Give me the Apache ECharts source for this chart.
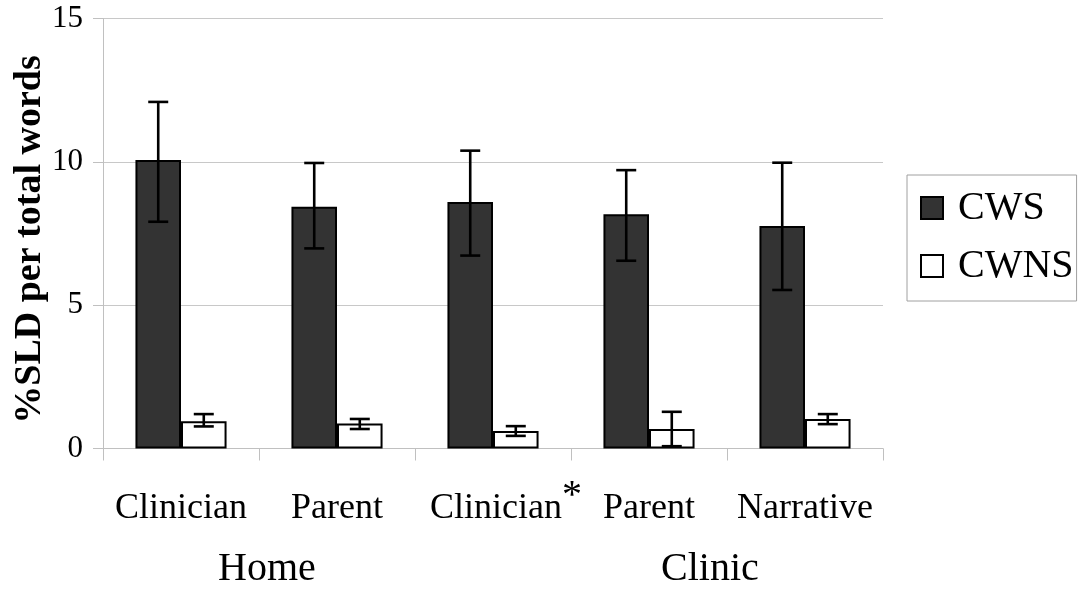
<!DOCTYPE html>
<html>
<head>
<meta charset="utf-8">
<script src="https://cdn.jsdelivr.net/npm/echarts@6/dist/echarts.min.js"></script>
<style>html,body{margin:0;padding:0;background:#fff;}#c{width:1082px;height:590px;}</style>
</head>
<body>
<div id="c"></div>
<script>
var categories = ['Clinician', 'Parent', 'Clinician*', 'Parent', 'Narrative'];
var groupLabels = ['Home', 'Clinic'];
var cwsValues = [10.06, 8.43, 8.60, 8.17, 7.76];
var cwsLow = [7.91, 6.98, 6.73, 6.55, 5.53];
var cwsHigh = [12.09, 9.96, 10.39, 9.71, 9.97];
var cwnsValues = [0.95, 0.87, 0.61, 0.68, 1.03];
var cwnsLow = [0.77, 0.68, 0.44, 0.08, 0.85];
var cwnsHigh = [1.20, 1.03, 0.78, 1.28, 1.20];
var yTicks = [0, 5, 10, 15];

var FONT = 'Liberation Serif';
var BAR_FRAC = 0.292;

function errData(lo, hi) {
  return lo.map(function (v, i) { return [i, v, hi[i]]; });
}
function makeErr(sign) {
  return function (params, api) {
    var idx = api.value(0);
    var band = api.size([1, 0])[0];
    var off = sign * band * BAR_FRAC / 2;
    var pLo = api.coord([idx, api.value(1)]);
    var pHi = api.coord([idx, api.value(2)]);
    var x = pLo[0] + off;
    var hw = 10;
    var st = { stroke: '#000', lineWidth: 2.6 };
    return {
      type: 'group',
      children: [
        { type: 'line', shape: { x1: x, y1: pLo[1], x2: x, y2: pHi[1] }, style: st },
        { type: 'line', shape: { x1: x - hw, y1: pLo[1], x2: x + hw, y2: pLo[1] }, style: st },
        { type: 'line', shape: { x1: x - hw, y1: pHi[1], x2: x + hw, y2: pHi[1] }, style: st }
      ]
    };
  };
}

var chart = echarts.init(document.getElementById('c'), null, { renderer: 'canvas' });
chart.setOption({
  animation: false,
  backgroundColor: '#fff',
  textStyle: { fontFamily: FONT },
  grid: { left: 103, right: 199, top: 18.5, bottom: 141.5, containLabel: false, outerBoundsMode: 'none' },
  legend: {
    orient: 'vertical',
    left: 907, top: 175,
    padding: [13, 3, 15, 13],
    itemGap: 18,
    itemWidth: 22, itemHeight: 22,
    borderColor: '#a0a0a0', borderWidth: 1,
    icon: 'rect',
    textStyle: { fontFamily: FONT, fontSize: 40, lineHeight: 40, color: '#000', padding: [0, 0, 0, 10] },
    data: ['CWS', 'CWNS']
  },
  xAxis: {
    type: 'category',
    data: categories,
    axisLine: { lineStyle: { color: '#c0c0c0', width: 1 } },
    axisTick: { show: true, length: 12, lineStyle: { color: '#c0c0c0' } },
    axisLabel: {
      margin: 42,
      interval: 0,
      formatter: function (v) {
        if (v.charAt(v.length - 1) === '*') return '{b|' + v.slice(0, -1) + '}{s|*}';
        return '{a|' + v + '}';
      },
      rich: {
        a: { fontFamily: FONT, fontSize: 36, lineHeight: 36, color: '#000' },
        b: { fontFamily: FONT, fontSize: 36, lineHeight: 36, color: '#000', padding: [0, 0, 0, 26] },
        s: { fontFamily: FONT, fontSize: 40, lineHeight: 12, padding: [0, 0, 24, 0], color: '#000' }
      }
    }
  },
  yAxis: {
    type: 'value',
    min: 0, max: 15, interval: 5,
    name: '%SLD per total words',
    nameLocation: 'middle',
    nameRotate: 90,
    nameGap: 54,
    nameMoveOverlap: false,
    nameTextStyle: { fontFamily: FONT, fontSize: 38, fontWeight: 'bold', color: '#000', padding: [0, 12, 0, 0] },
    axisLine: { show: true, lineStyle: { color: '#c0c0c0', width: 1 } },
    axisTick: { show: true, length: 10, lineStyle: { color: '#c0c0c0' } },
    splitLine: { lineStyle: { color: '#c8c8c8', width: 1 } },
    axisLabel: {
      margin: 20, fontFamily: FONT, fontSize: 31, color: '#000',
      formatter: function (v) { return yTicks.indexOf(v) >= 0 ? String(v) : ''; }
    }
  },
  graphic: [
    { type: 'text', left: 267 - 49, top: 569 - 20, style: { text: groupLabels[0], font: '40px "' + FONT + '"', fill: '#000' } },
    { type: 'text', left: 708 - 47, top: 569 - 20, style: { text: groupLabels[1], font: '40px "' + FONT + '"', fill: '#000' } }
  ],
  series: [
    {
      name: 'CWS', type: 'bar', data: cwsValues,
      barWidth: (BAR_FRAC * 100) + '%', barGap: '0%',
      itemStyle: { color: '#333333', borderColor: '#000', borderWidth: 2 }
    },
    {
      name: 'CWNS', type: 'bar', data: cwnsValues,
      barWidth: (BAR_FRAC * 100) + '%', barGap: '0%',
      itemStyle: { color: '#ffffff', borderColor: '#000', borderWidth: 2 }
    },
    { type: 'custom', renderItem: makeErr(-1), data: errData(cwsLow, cwsHigh), z: 10, silent: true },
    { type: 'custom', renderItem: makeErr(1), data: errData(cwnsLow, cwnsHigh), z: 10, silent: true }
  ]
});
</script>
</body>
</html>
